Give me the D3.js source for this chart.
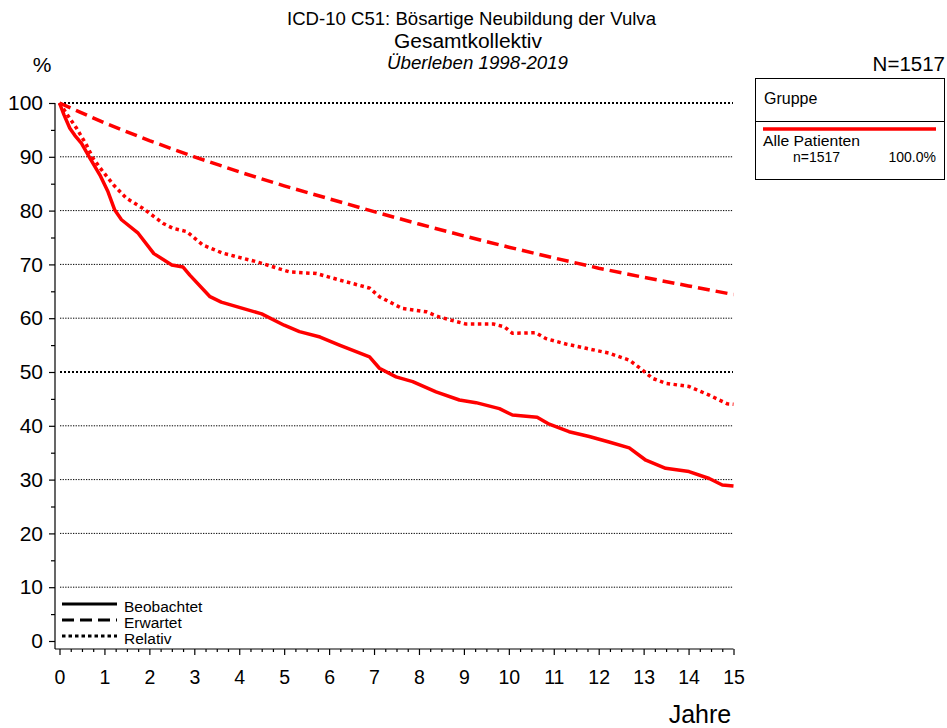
<!DOCTYPE html>
<html><head><meta charset="utf-8">
<script src="https://cdn.jsdelivr.net/npm/d3@7"></script>
<style>body{margin:0;background:#fff}text{font-family:Arial,"Liberation Sans",sans-serif}</style>
</head><body><svg id="c" width="947" height="728"></svg>
<script>
const observedT=[0,0.1,0.23,0.34,0.49,0.68,0.9,1.08,1.23,1.38,1.75,2.1,2.5,2.75,2.9,3.35,3.6,4.0,4.5,5.0,5.34,5.8,6.23,6.9,7.12,7.49,7.86,8.38,8.9,9.27,9.79,10.08,10.63,10.9,11.34,11.79,12.23,12.68,13.05,13.49,14.01,14.46,14.75,15];
const observedV=[100,97.8,95.3,94,92.5,89.7,86.6,83.5,80.1,78.3,75.8,72,69.9,69.5,68,64,63,62,60.8,58.7,57.5,56.5,55,52.8,50.7,49.1,48.2,46.3,44.8,44.3,43.2,42.0,41.6,40.3,38.9,38.0,37.0,35.9,33.6,32.1,31.5,30.2,29.0,28.8];
const expectedT=[0,1,2,3,4,5,6,7,8,9,10,11,12,13,14,15];
const expectedV=[100,96.3,93,90,87.2,84.6,82.2,79.8,77.5,75.3,73.2,71.2,69.3,67.6,66,64.4];
const relativeT=[0,0.2,0.38,0.6,0.75,0.97,1.2,1.49,1.86,2.31,2.53,2.83,3.19,3.63,4.38,5.12,5.72,6.23,6.9,7.12,7.63,8.16,8.46,9.05,9.66,9.9,10.08,10.6,10.83,11.27,11.72,12.23,12.68,12.97,13.2,13.49,14.01,14.46,14.86,15];
const relativeV=[100,97.5,95.3,92.2,89.7,87.2,84.8,82.3,80.4,77.6,76.7,76.1,73.6,72.1,70.5,68.6,68.3,67.1,65.6,64.0,61.8,61.2,60.2,58.9,58.9,58.4,57.2,57.3,56.2,55.2,54.4,53.5,52.2,50.4,48.8,47.9,47.3,45.7,44.1,44];
const xTicks=d3.range(0,16);
const yTicks=d3.range(0,101,10);
const legendStyles=["Beobachtet","Erwartet","Relativ"];

const svg=d3.select("#c");
const x=d3.scaleLinear().domain([0,15]).range([59.5,733.5]);
const y=d3.scaleLinear().domain([0,100]).range([641,103]);
const red="#ff0000";
const FF="Arial,'Liberation Sans',sans-serif";

// titles
svg.append("text").attr("x",471.5).attr("y",25).attr("text-anchor","middle").attr("font-size",17.5)
  .attr("textLength",369).attr("lengthAdjust","spacingAndGlyphs").text("ICD-10 C51: Bösartige Neubildung der Vulva");
svg.append("text").attr("x",468).attr("y",48).attr("text-anchor","middle").attr("font-size",19.5)
  .attr("textLength",148).attr("lengthAdjust","spacingAndGlyphs").text("Gesamtkollektiv");
svg.append("text").attr("x",477.5).attr("y",69).attr("text-anchor","middle").attr("font-size",19).attr("font-style","italic")
  .attr("textLength",181).attr("lengthAdjust","spacingAndGlyphs").text("Überleben 1998-2019");
svg.append("text").attr("x",42).attr("y",72).attr("text-anchor","middle").attr("font-size",21).text("%");
svg.append("text").attr("x",945).attr("y",71).attr("text-anchor","end").attr("font-size",20.5).text("N=1517");

// grid
yTicks.filter(d=>d>0).forEach(d=>{
  const heavy=(d===100||d===50);
  svg.append("line").attr("x1",60).attr("x2",733).attr("y1",y(d)).attr("y2",y(d))
    .attr("stroke","#000").attr("stroke-width",heavy?2:1).attr("stroke-dasharray",heavy?"2,2":"1.3,1.3");
});

// y axis
const yAxisG=svg.append("g").attr("transform","translate(55,0)");
yAxisG.call(d3.axisLeft(y).tickValues(yTicks).tickSize(6).tickSizeOuter(0).tickFormat(d3.format("d")));
yAxisG.append("g").call(d3.axisLeft(y).tickValues(d3.range(5,100,10)).tickSize(4).tickFormat(""));
yAxisG.selectAll(".domain").remove();
yAxisG.append("line").attr("x1",0).attr("x2",0).attr("y1",y(100)).attr("y2",649).attr("stroke","#000").attr("stroke-width",1.2);
yAxisG.selectAll("text").attr("font-size",21).attr("font-family",FF).attr("x",-12);
yAxisG.selectAll(".tick line").attr("stroke-width",1.2);

// x axis
const xAxisG=svg.append("g").attr("transform","translate(0,649)");
xAxisG.call(d3.axisBottom(x).tickValues(xTicks).tickSize(6).tickSizeOuter(0).tickFormat(d3.format("d")));
xAxisG.append("g").call(d3.axisBottom(x).tickValues(d3.range(0,15.01,0.25).filter(d=>d%1!==0)).tickSize(3).tickFormat(""));
xAxisG.selectAll(".domain").remove();
xAxisG.append("line").attr("x1",55).attr("x2",x(15)).attr("y1",0).attr("y2",0).attr("stroke","#000").attr("stroke-width",1.2);
xAxisG.selectAll("text").attr("font-size",19.5).attr("font-family",FF).attr("dy","1.35em");
xAxisG.selectAll(".tick line").attr("stroke-width",1.2);
svg.append("text").attr("x",700).attr("y",723).attr("text-anchor","middle").attr("font-size",25).text("Jahre");

// curves
const line=d3.line().x(d=>x(d[0])).y(d=>y(d[1]));
const zip=(a,b)=>a.map((t,i)=>[t,b[i]]);
svg.append("path").attr("d",line(zip(expectedT,expectedV))).attr("fill","none").attr("stroke",red).attr("stroke-width",3.5).attr("stroke-dasharray","12,6");
svg.append("path").attr("d",line(zip(relativeT,relativeV))).attr("fill","none").attr("stroke",red).attr("stroke-width",3.5).attr("stroke-dasharray","3.5,3.5");
svg.append("path").attr("d",line(zip(observedT,observedV))).attr("fill","none").attr("stroke",red).attr("stroke-width",3.5).attr("stroke-linejoin","round");

// style legend bottom-left
const dashes=[null,"12,6","3.5,3"];
legendStyles.forEach((s,i)=>{
  const yy=604+i*16;
  svg.append("line").attr("x1",62).attr("x2",117).attr("y1",yy).attr("y2",yy).attr("stroke","#000").attr("stroke-width",3.2).attr("stroke-dasharray",dashes[i]);
  svg.append("text").attr("x",124).attr("y",yy+8).attr("font-size",15.5).text(s);
});

// group legend box
svg.append("rect").attr("x",755.5).attr("y",78.5).attr("width",189).attr("height",101).attr("fill","#fff").attr("stroke","#000").attr("stroke-width",1);
svg.append("line").attr("x1",755.5).attr("x2",944.5).attr("y1",121.5).attr("y2",121.5).attr("stroke","#000").attr("stroke-width",1);
svg.append("text").attr("x",764).attr("y",104).attr("font-size",16).text("Gruppe");
svg.append("line").attr("x1",763).attr("x2",936).attr("y1",129).attr("y2",129).attr("stroke",red).attr("stroke-width",3.5);
svg.append("text").attr("x",763).attr("y",146).attr("font-size",14).attr("textLength",97).attr("lengthAdjust","spacingAndGlyphs").text("Alle Patienten");
svg.append("text").attr("x",793).attr("y",162).attr("font-size",14).text("n=1517");
svg.append("text").attr("x",936).attr("y",162).attr("text-anchor","end").attr("font-size",14).text("100.0%");
</script></body></html>
